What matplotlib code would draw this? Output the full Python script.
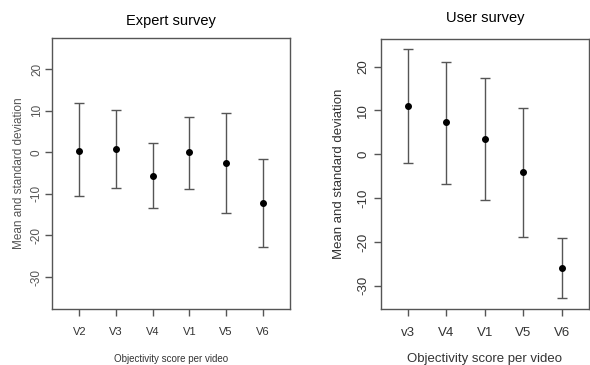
import numpy as np
import matplotlib
matplotlib.use("Agg")
import matplotlib.pyplot as plt

plt.rcParams['font.family'] = ['Liberation Sans', 'DejaVu Sans']

# expert survey: mean with lower / upper bound of +-1 sd
expert_videos = ["V2", "V3", "V4", "V1", "V5", "V6"]
expert_mean = [0.4, 0.7, -5.6, 0.0, -2.6, -12.3]
expert_upper = [11.9, 10.1, 2.3, 8.6, 9.5, -1.5]
expert_lower = [-10.6, -8.6, -13.5, -8.8, -14.7, -22.8]

# user survey
user_videos = ["v3", "V4", "V1", "V5", "V6"]
user_mean = [11.0, 7.3, 3.4, -4.0, -26.0]
user_upper = [24.0, 21.1, 17.3, 10.5, -19.0]
user_lower = [-1.9, -6.8, -10.5, -18.9, -32.9]

yticks = [-30, -20, -10, 0, 10, 20]

fig = plt.figure(figsize=(5.9, 3.65), dpi=100)
ax1 = fig.add_axes([0.0881, 0.1534, 0.4034, 0.7425])
ax2 = fig.add_axes([0.6458, 0.1534, 0.352, 0.7397])


def draw_panel(ax, labels, mean, lower, upper, title, xlim, ylim, condensed):
    x = np.arange(1, len(labels) + 1)
    mean = np.array(mean)
    err = [mean - np.array(lower), np.array(upper) - mean]
    ax.errorbar(x, mean, yerr=err, fmt='o', color='black', ms=4,
                ecolor='#555555', elinewidth=1.0, capsize=3.5, capthick=1.0)
    ax.set_xlim(*xlim)
    ax.set_ylim(*ylim)
    ax.set_xticks(x)
    ax.set_yticks(yticks)
    for s in ax.spines.values():
        s.set_color('#555555')
        s.set_linewidth(1.0)
    ax.tick_params(color='#555555', length=5, width=1.0)
    ax.tick_params(axis='x', pad=8)
    txt = '#333333'
    if condensed:
        narrow = ['Liberation Sans Narrow', 'Liberation Sans']
        ax.tick_params(axis='y', pad=1.5)
        ax.set_xticklabels(labels, fontsize=8, color=txt, fontstretch='condensed',
                           family=narrow)
        ax.set_yticklabels([str(t) for t in yticks], fontsize=8.5, color='#555555',
                           rotation=90, va='center')
        ax.set_xlabel("Objectivity score per video", fontsize=7, color=txt,
                      labelpad=12, family=narrow)
        ax.set_ylabel("Mean and standard deviation", fontsize=8.5, color='#555555',
                      labelpad=4)
        ax.set_title(title, fontsize=10.5, color='black', pad=9)
    else:
        ax.set_xticklabels(labels, fontsize=9.5, color=txt)
        ax.set_yticklabels([str(t) for t in yticks], fontsize=9.5, color=txt,
                           rotation=90, va='center')
        ax.set_xlabel("Objectivity score per video", fontsize=9.5, color=txt,
                      labelpad=10)
        ax.set_ylabel("Mean and standard deviation", fontsize=9.5, color=txt,
                      labelpad=9)
        ax.set_title(title, fontsize=10.5, color='black', pad=12)


draw_panel(ax1, expert_videos, expert_mean, expert_lower, expert_upper,
           "Expert survey", (0.25, 6.75), (-37.7, 27.5), True)
draw_panel(ax2, user_videos, user_mean, user_lower, user_upper,
           "User survey", (0.3, 5.7), (-35.3, 26.3), False)

fig.savefig("out.png", dpi=100)
